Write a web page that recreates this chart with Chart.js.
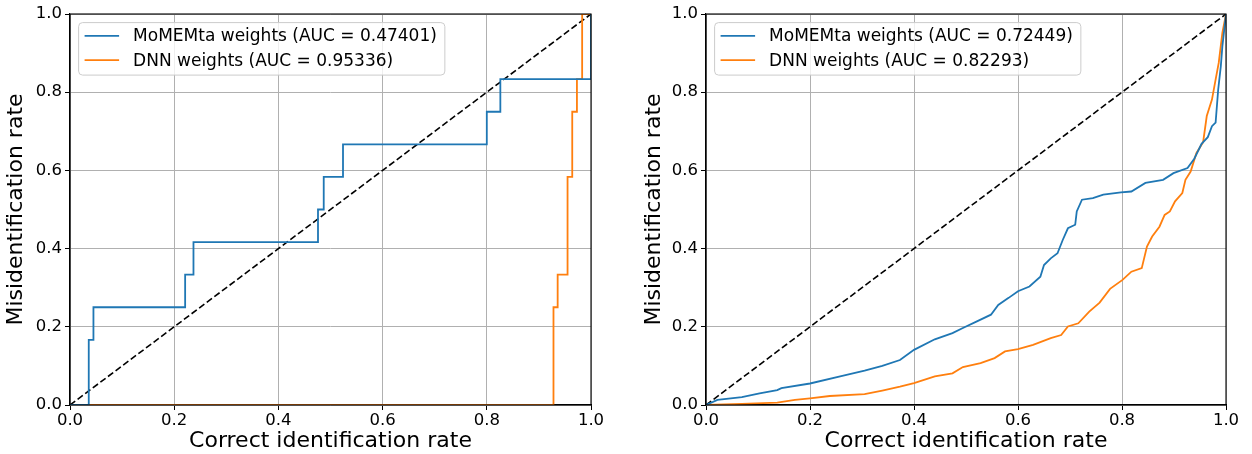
<!DOCTYPE html>
<html>
<head>
<meta charset="utf-8">
<script src="https://cdn.jsdelivr.net/npm/chart.js@4.4.0/dist/chart.umd.min.js"></script>
<style>
body { margin: 0; background: #fff; width: 1252px; height: 454px; position: relative; overflow: hidden; }
canvas { position: absolute; top: 0; }
#rocLeft { left: 0; }
#rocRight { left: 637px; }
</style>
</head>
<body>
<canvas id="rocLeft" width="626" height="454"></canvas>
<canvas id="rocRight" width="615" height="454"></canvas>
<script>
const xTitle = 'Correct identification rate';
const yTitle = 'Misidentification rate';
const tickValues = [0, 0.2, 0.4, 0.6, 0.8, 1.0];

const leftLabels = ['MoMEMta weights (AUC = 0.47401)', 'DNN weights (AUC = 0.95336)'];
const rightLabels = ['MoMEMta weights (AUC = 0.72449)', 'DNN weights (AUC = 0.82293)'];

// left panel: step ROC curves
const leftMomX = [0, 0.036, 0.036, 0.045, 0.045, 0.221, 0.221, 0.237, 0.237, 0.476, 0.476, 0.487, 0.487, 0.524, 0.524, 0.800, 0.800, 0.826, 0.826, 1.0, 1.0];
const leftMomY = [0, 0, 0.1667, 0.1667, 0.25, 0.25, 0.3333, 0.3333, 0.4167, 0.4167, 0.5, 0.5, 0.5833, 0.5833, 0.6667, 0.6667, 0.75, 0.75, 0.8333, 0.8333, 1.0];
const leftDnnX = [0, 0.928, 0.928, 0.936, 0.936, 0.955, 0.955, 0.964, 0.964, 0.973, 0.973, 0.983, 0.983, 1.0];
const leftDnnY = [0, 0, 0.25, 0.25, 0.3333, 0.3333, 0.5833, 0.5833, 0.75, 0.75, 0.8333, 0.8333, 1.0, 1.0];

// right panel
const rightMomX = [0, 0.022, 0.069, 0.103, 0.137, 0.145, 0.2, 0.258, 0.305, 0.339, 0.373, 0.4, 0.44, 0.474, 0.494, 0.521, 0.548, 0.562, 0.582, 0.600, 0.622, 0.643, 0.650, 0.663, 0.676, 0.686, 0.696, 0.710, 0.713, 0.723, 0.744, 0.764, 0.798, 0.818, 0.845, 0.879, 0.899, 0.926, 0.939, 0.953, 0.965, 0.973, 0.980, 0.985, 0.990, 0.993, 1.0];
const rightMomY = [0, 0.013, 0.020, 0.030, 0.038, 0.043, 0.055, 0.073, 0.088, 0.100, 0.115, 0.141, 0.168, 0.184, 0.197, 0.214, 0.231, 0.256, 0.274, 0.291, 0.303, 0.328, 0.358, 0.375, 0.388, 0.422, 0.452, 0.461, 0.495, 0.525, 0.529, 0.538, 0.544, 0.546, 0.568, 0.576, 0.593, 0.606, 0.630, 0.668, 0.685, 0.713, 0.722, 0.807, 0.866, 0.917, 1.0];
const rightDnnX = [0, 0.069, 0.137, 0.171, 0.2, 0.238, 0.305, 0.339, 0.373, 0.4, 0.44, 0.474, 0.494, 0.528, 0.555, 0.575, 0.6, 0.629, 0.663, 0.683, 0.696, 0.716, 0.737, 0.757, 0.777, 0.801, 0.818, 0.838, 0.848, 0.858, 0.872, 0.882, 0.892, 0.902, 0.916, 0.922, 0.932, 0.943, 0.956, 0.963, 0.973, 0.980, 0.986, 0.993, 1.0];
const rightDnnY = [0, 0.003, 0.006, 0.013, 0.017, 0.023, 0.028, 0.037, 0.047, 0.056, 0.073, 0.081, 0.097, 0.107, 0.120, 0.137, 0.143, 0.154, 0.171, 0.179, 0.201, 0.209, 0.239, 0.262, 0.297, 0.320, 0.341, 0.350, 0.405, 0.431, 0.456, 0.486, 0.495, 0.521, 0.542, 0.576, 0.597, 0.644, 0.672, 0.739, 0.781, 0.832, 0.875, 0.952, 1.0];

const diagX = [0, 1];
const diagY = [0, 1];

const FONT = 'DejaVu Sans';
const toPoints = (xs, ys) => xs.map((x, i) => ({ x: x, y: ys[i] }));

// box round the plot + matplotlib-like legend inside the axes
const frameLegend = {
    id: 'frameLegend',
    afterDraw(chart) {
        const { ctx, chartArea: a } = chart;
        ctx.save();
        ctx.strokeStyle = '#000';
        ctx.lineWidth = 1.1;
        ctx.strokeRect(a.left, a.top, a.right - a.left, a.bottom - a.top);

        const items = chart.data.datasets.filter(d => !d.hideInLegend);
        ctx.font = '17px "' + FONT + '"';
        const textW = Math.max(...items.map(d => ctx.measureText(d.label).width));
        const bx = a.left + 8.6, by = a.top + 8.6;
        const bw = 54.5 + textW + 8, bh = 52.5;
        ctx.beginPath();
        ctx.roundRect(bx, by, bw, bh, 4);
        ctx.fillStyle = 'rgba(255,255,255,0.8)';
        ctx.fill();
        ctx.strokeStyle = '#cccccc';
        ctx.lineWidth = 1;
        ctx.stroke();
        items.forEach((d, i) => {
            const yy = by + 13.2 + i * 24.4;
            ctx.beginPath();
            ctx.moveTo(bx + 6, yy);
            ctx.lineTo(bx + 40.5, yy);
            ctx.strokeStyle = d.borderColor;
            ctx.lineWidth = 1.8;
            ctx.stroke();
            ctx.fillStyle = '#000';
            ctx.textBaseline = 'middle';
            ctx.fillText(d.label, bx + 54.5, yy + 1);
        });
        ctx.restore();
    }
};

const makeRoc = (canvasId, labels, momX, momY, dnnX, dnnY, yWidth, rightPad, yTitlePad) => {
    const ctx = document.getElementById(canvasId);
    return new Chart(ctx, {
        type: 'line',
        data: {
            datasets: [
                { label: labels[0], data: toPoints(momX, momY), borderColor: '#1f77b4', borderWidth: 1.8 },
                { label: labels[1], data: toPoints(dnnX, dnnY), borderColor: '#ff7f0e', borderWidth: 1.8 },
                { label: 'diag', hideInLegend: true, data: toPoints(diagX, diagY), borderColor: '#000', borderWidth: 1.6, borderDash: [6.5, 3] }
            ]
        },
        options: {
            responsive: false,
            animation: false,
            parsing: false,
            layout: { padding: { top: 14, right: rightPad, left: 0, bottom: 0 } },
            elements: { point: { radius: 0 }, line: { tension: 0, fill: false } },
            plugins: { legend: { display: false }, tooltip: { enabled: false } },
            scales: {
                x: {
                    type: 'linear', min: 0, max: 1,
                    afterBuildTicks: s => { s.ticks = tickValues.map(v => ({ value: v })); },
                    afterFit: s => { s.height = 49; },
                    ticks: { callback: v => v.toFixed(1), color: '#000', font: { family: FONT, size: 16.5 }, padding: 1, maxRotation: 0 },
                    grid: { color: '#b0b0b0', lineWidth: 1, tickColor: '#000', tickLength: 5 },
                    border: { color: '#000', width: 1.1 },
                    title: { display: true, text: xTitle, color: '#000', font: { family: FONT, size: 22 }, padding: { top: 0, bottom: 0 } }
                },
                y: {
                    type: 'linear', min: 0, max: 1,
                    afterBuildTicks: s => { s.ticks = tickValues.map(v => ({ value: v })); },
                    afterFit: s => { s.width = yWidth; },
                    ticks: { callback: v => v.toFixed(1), color: '#000', font: { family: FONT, size: 16.5 }, padding: 3 },
                    grid: { color: '#b0b0b0', lineWidth: 1, tickColor: '#000', tickLength: 5 },
                    border: { color: '#000', width: 1.1 },
                    title: { display: true, text: yTitle, color: '#000', font: { family: FONT, size: 22 }, padding: { top: yTitlePad, bottom: 0 } }
                }
            }
        },
        plugins: [frameLegend]
    });
};

makeRoc('rocLeft', leftLabels, leftMomX, leftMomY, leftDnnX, leftDnnY, 70, 35, 3);
makeRoc('rocRight', rightLabels, rightMomX, rightMomY, rightDnnX, rightDnnY, 69, 26, 4.5);
</script>
</body>
</html>
